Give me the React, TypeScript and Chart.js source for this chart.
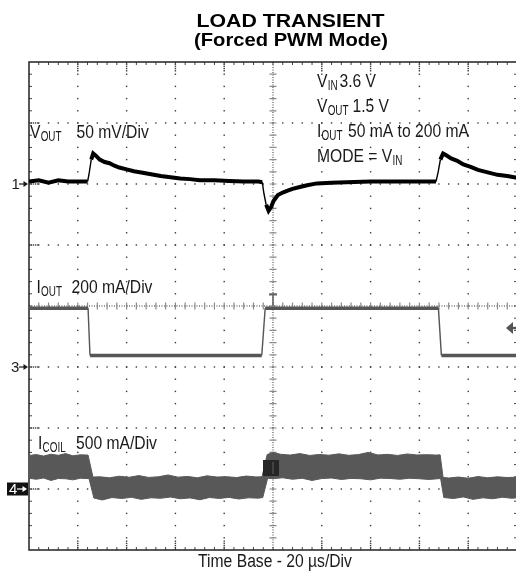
import React, { useEffect, useRef } from "react";
import { Chart, registerables } from "chart.js";

Chart.register(...registerables);

// ---- Data (time in µs, 20 µs/div, 10 divisions) ----
const timeMin = 0;
const timeMax = 200;

// Channel 1: VOUT (mV), 50 mV/div
const voutT = [0, 4, 8, 12, 16, 20, 24, 24.6, 25.5, 26.3, 27.5, 29, 31, 33, 35, 37, 40, 43, 46, 50, 54, 58, 62, 66, 70, 76, 82, 88, 94, 95.6, 96.3, 97.2, 98.2, 99.2, 100.2, 102, 104, 106, 108, 111, 114, 118, 124, 130, 140, 150, 160, 166.8, 167.7, 168.6, 169.7, 171, 173, 175.5, 178, 181, 184, 188, 192, 196, 200];
const voutMV = [2, 3, 1, 3, 2, 2, 2, 8, 20, 25, 23, 20, 18, 17, 15, 13.5, 12, 10.5, 9.5, 8, 6.5, 5.5, 4.5, 4, 3, 3, 2.5, 2, 2, 1.5, -8, -17, -22, -19, -14, -9, -7, -5.5, -4, -2.5, -1, 0.5, 1, 1.5, 2, 2, 2, 2, 10, 20, 25, 23.5, 21, 19, 16, 14, 11.5, 9.5, 7.5, 6.5, 5];

// Channel 3: IOUT (mA), 200 mA/div
const ioutT = [0, 24.2, 25, 95.4, 96.8, 167.8, 169, 200];
const ioutMA = [193, 193, 38, 38, 193, 193, 38, 38];

// Channel 4: ICOIL (mA), 500 mA/div — upper and lower envelope of the ripple band
const icoilUpperT = [0, 3, 6, 9, 12, 15, 18, 21, 24.2, 26.2, 29, 33, 37, 41, 45, 49, 53, 57, 61, 65, 69, 73, 77, 81, 85, 89, 93, 95.5, 97.6, 100, 103, 107, 111, 115, 119, 123, 127, 131, 135, 139, 143, 147, 151, 155, 159, 163, 167, 168.5, 169.7, 172, 176, 180, 184, 188, 192, 196, 200];
const icoilUpperMA = [275, 282, 270, 285, 276, 290, 272, 280, 278, 98, 100, 92, 105, 96, 110, 95, 100, 115, 97, 103, 92, 108, 98, 101, 94, 106, 99, 100, 282, 300, 285, 278, 290, 275, 283, 277, 288, 276, 282, 300, 279, 284, 275, 287, 279, 281, 278, 280, 95, 90, 98, 88, 102, 92, 100, 94, 97];
const icoilLowerT = [0, 3, 6, 9, 12, 15, 18, 21, 24.6, 26.6, 30, 34, 38, 42, 46, 50, 54, 58, 62, 66, 70, 74, 78, 82, 86, 90, 94, 95.8, 97.8, 100, 104, 108, 112, 116, 120, 124, 128, 132, 136, 140, 144, 148, 152, 156, 160, 164, 168.7, 170, 174, 178, 182, 186, 190, 194, 198, 200];
const icoilLowerMA = [88, 80, 90, 70, 86, 84, 75, 88, 85, -74, -90, -70, -78, -68, -85, -72, -76, -66, -80, -73, -88, -70, -77, -69, -82, -72, -75, -70, 88, 85, 92, 80, 88, 70, 86, 90, 78, 87, 84, 75, 89, 86, 80, 88, 84, 78, 86, -70, -78, -65, -85, -72, -80, -68, -76, -72];

// Channel settings (units per division, reference level position in divisions from top)
const vPerDiv = 50;
const iOutPerDiv = 200;
const iCoilPerDiv = 500;
const refDivFromTop = [2, 5, 7]; // ch1, ch3, ch4 ground markers

const FONT = '"Liberation Sans", Arial, Helvetica, sans-serif';
const SX = 0.87;

function zip(t: number[], v: number[]) {
  return t.map((x, i) => ({ x, y: v[i] }));
}

function drawLabel(
  ctx: CanvasRenderingContext2D,
  x: number,
  y: number,
  main: string,
  sub: string,
  value: string,
  valueX: number
) {
  ctx.save();
  ctx.translate(x, y);
  ctx.scale(SX, 1);
  ctx.font = `18px ${FONT}`;
  ctx.fillText(main, 0, 0);
  const w = ctx.measureText(main).width;
  ctx.restore();
  if (sub) {
    ctx.save();
    ctx.translate(x + w * SX + 0.2, y + 3);
    ctx.scale(0.66, 1);
    ctx.font = `15px ${FONT}`;
    ctx.fillText(sub, 0, 0);
    ctx.restore();
  }
  if (value) {
    ctx.save();
    ctx.translate(valueX, y);
    ctx.scale(SX, 1);
    ctx.font = `18px ${FONT}`;
    ctx.fillText(value, 0, 0);
    ctx.restore();
  }
}

function fitText(ctx: CanvasRenderingContext2D, text: string, cx: number, y: number, width: number, font: string) {
  ctx.save();
  ctx.font = font;
  const m = ctx.measureText(text).width;
  const s = width / m;
  ctx.translate(cx - width / 2, y);
  ctx.scale(s, 1);
  ctx.textAlign = "left";
  ctx.fillText(text, 0, 0);
  ctx.restore();
}

function arrow(ctx: CanvasRenderingContext2D, x0: number, x1: number, y: number, color: string) {
  ctx.save();
  ctx.strokeStyle = color;
  ctx.fillStyle = color;
  ctx.lineWidth = 1.2;
  ctx.beginPath();
  ctx.moveTo(x0, y);
  ctx.lineTo(x1 - 3, y);
  ctx.stroke();
  ctx.beginPath();
  ctx.moveTo(x1, y);
  ctx.lineTo(x1 - 4.5, y - 3);
  ctx.lineTo(x1 - 4.5, y + 3);
  ctx.closePath();
  ctx.fill();
  ctx.restore();
}

const scopeGrid = {
  id: "scopeGrid",
  beforeDatasetsDraw(chart: any) {
    const ctx: CanvasRenderingContext2D = chart.ctx;
    const { left, top, right, bottom } = chart.chartArea;
    const w = right - left;
    const h = bottom - top;
    const dx = w / 10;
    const dy = h / 8;
    const cx = left + 5 * dx;
    const cy = top + 4 * dy;
    ctx.save();
    ctx.fillStyle = "#3a3a3a";
    const dot = (x: number, y: number) => ctx.fillRect(x - 0.7, y - 0.7, 1.4, 1.4);
    for (let i = 1; i < 10; i++) {
      if (i === 5) continue;
      const x = left + i * dx;
      for (let k = 1; k < 40; k++) dot(x, top + (k * dy) / 5);
      for (let k = 1; k <= 4; k++) {
        dot(x, top + k * 2.2);
        dot(x, bottom - k * 2.2);
      }
    }
    for (let j = 1; j < 8; j++) {
      if (j === 4) continue;
      const y = top + j * dy;
      for (let k = 1; k < 50; k++) dot(left + (k * dx) / 5, y);
      for (let k = 1; k <= 4; k++) dot(left + k * 2.2, y);
    }
    ctx.strokeStyle = "#333";
    ctx.lineWidth = 1;
    ctx.setLineDash([1, 1.5]);
    ctx.beginPath();
    ctx.moveTo(cx, top);
    ctx.lineTo(cx, bottom);
    ctx.moveTo(left, cy);
    ctx.lineTo(right, cy);
    ctx.stroke();
    ctx.setLineDash([]);
    ctx.strokeStyle = "#8a8a8a";
    ctx.lineWidth = 1.2;
    ctx.beginPath();
    for (let k = 1; k < 50; k++) {
      const x = left + (k * dx) / 5;
      ctx.moveTo(x, cy - 3.5);
      ctx.lineTo(x, cy + 3.5);
    }
    for (let k = 1; k < 40; k++) {
      const y = top + (k * dy) / 5;
      ctx.moveTo(cx - 3.5, y);
      ctx.lineTo(cx + 3.5, y);
    }
    ctx.stroke();
    ctx.strokeStyle = "#444";
    ctx.lineWidth = 1;
    ctx.beginPath();
    for (let k = 1; k < 50; k++) {
      const x = left + (k * dx) / 5;
      ctx.moveTo(x, top);
      ctx.lineTo(x, top + 3);
      ctx.moveTo(x, bottom);
      ctx.lineTo(x, bottom - 3);
    }
    for (let k = 1; k < 40; k++) {
      const y = top + (k * dy) / 5;
      ctx.moveTo(left, y);
      ctx.lineTo(left + 3, y);
      ctx.moveTo(right, y);
      ctx.lineTo(right - 3, y);
    }
    ctx.stroke();
    ctx.strokeStyle = "#222";
    ctx.lineWidth = 1.5;
    ctx.strokeRect(left, top, w, h);
    ctx.restore();
  },
  afterDatasetsDraw(chart: any) {
    const ctx: CanvasRenderingContext2D = chart.ctx;
    const { left, right } = chart.chartArea;
    const cx = left + (right - left) / 2;
    const s = chart.scales;
    ctx.save();
    ctx.textBaseline = "alphabetic";

    ctx.fillStyle = "#000";
    fitText(ctx, "LOAD TRANSIENT", 290.5, 26.5, 188, `bold 18.5px ${FONT}`);
    fitText(ctx, "(Forced PWM Mode)", 291, 45.5, 194, `bold 18.5px ${FONT}`);

    ctx.fillStyle = "#1a1a1a";
    drawLabel(ctx, 317, 86.5, "V", "IN", "3.6 V", 339.5);
    drawLabel(ctx, 317, 111.5, "V", "OUT", "1.5 V", 352.5);
    drawLabel(ctx, 317, 137, "I", "OUT", "50 mA to 200 mA", 348);
    drawLabel(ctx, 317, 161.5, "MODE = V", "IN", "", 0);
    drawLabel(ctx, 30, 138, "V", "OUT", "50 mV/Div", 76.5);
    drawLabel(ctx, 36.5, 293, "I", "OUT", "200 mA/Div", 71.5);
    drawLabel(ctx, 38, 448.5, "I", "COIL", "500 mA/Div", 76);

    ctx.save();
    ctx.font = `18px ${FONT}`;
    const tb = "Time Base - 20 µs/Div";
    const tw = ctx.measureText(tb).width * SX;
    ctx.translate(275 - tw / 2, 566.5);
    ctx.scale(SX, 1);
    ctx.fillText(tb, 0, 0);
    ctx.restore();

    const y1 = s.yV.getPixelForValue(0);
    const y3 = s.yI.getPixelForValue(0);
    const y4 = s.yC.getPixelForValue(0);
    ctx.font = `15px ${FONT}`;
    ctx.textBaseline = "middle";
    ctx.fillStyle = "#1a1a1a";
    ctx.fillText("1", 11.5, y1 + 0.5);
    arrow(ctx, 19, 28, y1, "#1a1a1a");
    ctx.fillText("3", 11, y3 + 0.5);
    arrow(ctx, 19, 28, y3, "#1a1a1a");
    ctx.fillStyle = "#111";
    ctx.fillRect(7, y4 - 6.5, 21, 13);
    ctx.fillStyle = "#fff";
    ctx.fillText("4", 9, y4 + 0.5);
    arrow(ctx, 17, 27, y4, "#fff");

    ctx.fillStyle = "#555";
    const ty = 328;
    ctx.beginPath();
    ctx.moveTo(506, ty);
    ctx.lineTo(513, ty - 6);
    ctx.lineTo(513, ty + 6);
    ctx.closePath();
    ctx.fill();
    ctx.fillRect(512, ty - 1.2, 6, 2.4);

    ctx.fillStyle = "#666";
    ctx.fillRect(cx - 4, 293.5, 8, 2);
    ctx.fillRect(cx - 0.8, 293.5, 1.6, 12);

    ctx.fillStyle = "#262626";
    ctx.fillRect(263, 460, 16, 16);
    ctx.fillStyle = "#555";
    ctx.fillRect(cx - 0.6, 462, 1.2, 12);

    ctx.restore();
  },
};

export default function App() {
  const ref = useRef<HTMLCanvasElement | null>(null);
  useEffect(() => {
    if (!ref.current) return;
    const thin = (c: any, wide: number) => {
      const dxp = Math.abs(c.p1.x - c.p0.x);
      const dyp = Math.abs(c.p1.y - c.p0.y);
      return dyp > 4 * dxp && dyp > 6 ? 1.4 : wide;
    };
    const chart = new Chart(ref.current, {
      type: "line",
      data: {
        datasets: [
          {
            label: "VOUT",
            data: zip(voutT, voutMV),
            yAxisID: "yV",
            borderColor: "#000",
            borderWidth: 4,
            pointRadius: 0,
            fill: false,
            tension: 0,
            segment: { borderWidth: (c: any) => thin(c, 4) },
          },
          {
            label: "IOUT",
            data: zip(ioutT, ioutMA),
            yAxisID: "yI",
            borderColor: "#565656",
            borderWidth: 3.5,
            pointRadius: 0,
            fill: false,
            tension: 0,
            segment: { borderWidth: (c: any) => thin(c, 3.5) },
          },
          {
            label: "ICOIL upper",
            data: zip(icoilUpperT, icoilUpperMA),
            yAxisID: "yC",
            borderColor: "#585858",
            borderWidth: 1,
            pointRadius: 0,
            fill: false,
            tension: 0,
          },
          {
            label: "ICOIL lower",
            data: zip(icoilLowerT, icoilLowerMA),
            yAxisID: "yC",
            borderColor: "#585858",
            backgroundColor: "#585858",
            borderWidth: 1,
            pointRadius: 0,
            fill: "-1",
            tension: 0,
          },
        ],
      },
      options: {
        animation: false,
        responsive: false,
        events: [],
        layout: { padding: { left: 29, top: 62, right: 3, bottom: 21 } },
        plugins: {
          legend: { display: false },
          tooltip: { enabled: false },
          title: { display: false },
        },
        scales: {
          x: { type: "linear", min: timeMin, max: timeMax, display: false },
          yV: {
            type: "linear",
            min: -(8 - refDivFromTop[0]) * vPerDiv,
            max: refDivFromTop[0] * vPerDiv,
            display: false,
          },
          yI: {
            type: "linear",
            min: -(8 - refDivFromTop[1]) * iOutPerDiv,
            max: refDivFromTop[1] * iOutPerDiv,
            display: false,
          },
          yC: {
            type: "linear",
            min: -(8 - refDivFromTop[2]) * iCoilPerDiv,
            max: refDivFromTop[2] * iCoilPerDiv,
            display: false,
          },
        },
      },
      plugins: [scopeGrid],
    });
    return () => chart.destroy();
  }, []);
  return (
    <div
      style={{
        position: "absolute",
        left: 0,
        top: 0,
        width: 516,
        height: 571,
        overflow: "hidden",
        background: "#fff",
      }}
    >
      <canvas ref={ref} width={520} height={571} style={{ display: "block" }} />
    </div>
  );
}
